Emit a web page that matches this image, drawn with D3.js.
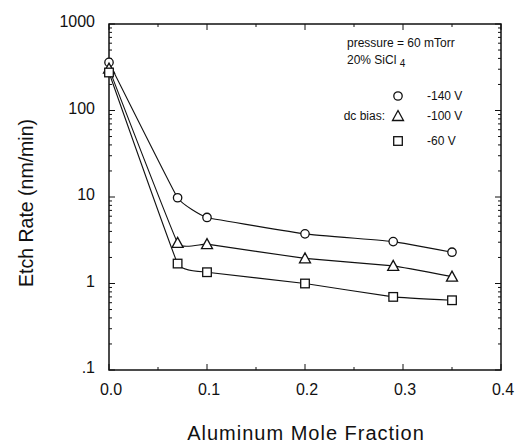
<!DOCTYPE html>
<html>
<head>
<meta charset="utf-8">
<script src="https://cdn.jsdelivr.net/npm/d3@7"></script>
<style>
  body { margin: 0; background: #fff; }
  text { font-family: "Liberation Sans", Arial, sans-serif; fill: #111; }
</style>
</head>
<body>
<script>
const width = 518;
const height = 443;

// data
const moleFraction = [0, 0.07, 0.1, 0.2, 0.29, 0.35];
const rate140 = [360, 9.8, 5.8, 3.75, 3.05, 2.3];
const rate100 = [305, 2.95, 2.85, 1.95, 1.6, 1.2];
const rate60 = [275, 1.7, 1.35, 1.0, 0.7, 0.64];
const seriesNames = ["-140 V", "-100 V", "-60 V"];
const symbols = ["circle", "triangle", "square"];
const xTicks = [0, 0.1, 0.2, 0.3, 0.4];
const yTicks = [0.1, 1, 10, 100, 1000];
const yTickLabels = [".1", "1", "10", "100", "1000"];

const plotLeft = 109, plotRight = 501, plotTop = 24, plotBottom = 370;

const svg = d3.select("body")
	.append("svg")
	.attr("width", width)
	.attr("height", height);

const x = d3.scaleLinear().domain([0, 0.4]).range([plotLeft, plotRight]);
const y = d3.scaleLog().domain([0.1, 1000]).range([plotBottom, plotTop]);

// frame
svg.append("rect")
	.attr("x", plotLeft).attr("y", plotTop)
	.attr("width", plotRight - plotLeft).attr("height", plotBottom - plotTop)
	.attr("fill", "none").attr("stroke", "#111").attr("stroke-width", 1.5);

// x ticks (inward, bottom and top)
const xMinor = d3.range(0.05, 0.4, 0.1);
[[plotBottom, -1], [plotTop, 1]].forEach(function (s) {
	svg.selectAll(null).data(xTicks).enter().append("line")
		.attr("x1", d => x(d)).attr("x2", d => x(d))
		.attr("y1", s[0]).attr("y2", s[0] + s[1] * 6)
		.attr("stroke", "#111");
	svg.selectAll(null).data(xMinor).enter().append("line")
		.attr("x1", d => x(d)).attr("x2", d => x(d))
		.attr("y1", s[0]).attr("y2", s[0] + s[1] * 3)
		.attr("stroke", "#111");
});

svg.selectAll(null).data(xTicks).enter().append("text")
	.attr("x", d => x(d) + 2).attr("y", plotBottom + 25)
	.attr("text-anchor", "middle")
	.attr("font-size", "16px")
	.text(d => d.toFixed(1));

// y ticks (log, inward on both sides)
const yMinor = [];
for (let p = -1; p < 3; p++) {
	for (let m = 2; m < 10; m++) yMinor.push(m * Math.pow(10, p));
}
[[plotLeft, 1], [plotRight, -1]].forEach(function (s) {
	svg.selectAll(null).data(yTicks).enter().append("line")
		.attr("x1", s[0]).attr("x2", s[0] + s[1] * 6)
		.attr("y1", d => y(d)).attr("y2", d => y(d))
		.attr("stroke", "#111");
	svg.selectAll(null).data(yMinor).enter().append("line")
		.attr("x1", s[0]).attr("x2", s[0] + s[1] * 3)
		.attr("y1", d => y(d)).attr("y2", d => y(d))
		.attr("stroke", "#111");
});

svg.selectAll(null).data(yTicks).enter().append("text")
	.attr("x", plotLeft - 14).attr("y", d => y(d) + 3)
	.attr("text-anchor", "end")
	.attr("font-size", "16px")
	.text((d, i) => yTickLabels[i]);

// axis titles
svg.append("text")
	.attr("transform", "translate(33,203) rotate(-90)")
	.attr("text-anchor", "middle")
	.attr("font-size", "19.5px")
	.text("Etch Rate (nm/min)");

svg.append("text")
	.attr("x", 306).attr("y", 440)
	.attr("text-anchor", "middle")
	.attr("font-size", "20px")
	.attr("letter-spacing", "1px")
	.text("Aluminum Mole Fraction");

// curves and markers
const series = [rate140, rate100, rate60].map(function (vals, i) {
	return { name: seriesNames[i], symbol: symbols[i],
		points: moleFraction.map((f, j) => ({ x: f, y: vals[j] })) };
});

const lineGen = d3.line()
	.x(d => x(d.x))
	.y(d => y(d.y))
	.curve(d3.curveCardinal.tension(0.75));

svg.selectAll(null).data(series).enter().append("path")
	.attr("d", d => lineGen(d.points))
	.attr("fill", "none")
	.attr("stroke", "#111")
	.attr("stroke-width", 1.1);

function drawSymbol(g, type, cx, cy) {
	if (type === "circle") {
		g.append("circle").attr("cx", cx).attr("cy", cy).attr("r", 4.2)
			.attr("fill", "#fff").attr("stroke", "#111").attr("stroke-width", 1.3);
	} else if (type === "square") {
		g.append("rect").attr("x", cx - 4.3).attr("y", cy - 4.3)
			.attr("width", 8.6).attr("height", 8.6)
			.attr("fill", "#fff").attr("stroke", "#111").attr("stroke-width", 1.3);
	} else {
		g.append("path")
			.attr("d", "M" + cx + "," + (cy - 5.5) + "L" + (cx + 5.5) + "," + (cy + 4.5) + "L" + (cx - 5.5) + "," + (cy + 4.5) + "Z")
			.attr("fill", "#fff").attr("stroke", "#111").attr("stroke-width", 1.3);
	}
}

series.forEach(function (s) {
	s.points.forEach(function (p) {
		drawSymbol(svg, s.symbol, x(p.x), y(p.y));
	});
});

// annotations
svg.append("text")
	.attr("x", 347).attr("y", 47)
	.attr("font-size", "12px")
	.text("pressure = 60 mTorr");

const note2 = svg.append("text")
	.attr("x", 347).attr("y", 64)
	.attr("font-size", "12px");
note2.append("tspan").text("20% SiCl ");
note2.append("tspan").attr("dy", 3).attr("font-size", "10px").text("4");

const legendY = [96, 116, 141];
series.forEach(function (s, i) {
	drawSymbol(svg, s.symbol, 398, legendY[i]);
	svg.append("text")
		.attr("x", 427).attr("y", legendY[i] + 4)
		.attr("font-size", "12px")
		.text(s.name);
});
svg.append("text")
	.attr("x", 385).attr("y", legendY[1] + 4)
	.attr("text-anchor", "end")
	.attr("font-size", "12px")
	.text("dc bias:");
</script>
</body>
</html>
